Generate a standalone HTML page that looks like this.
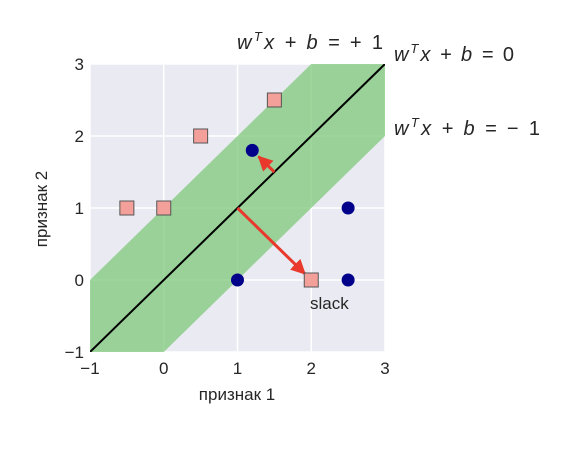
<!DOCTYPE html>
<html><head><meta charset="utf-8"><style>
body{margin:0;background:#fff;}
svg text{font-family:"Liberation Sans","DejaVu Sans",sans-serif;fill:#262626;}
</style></head><body>
<svg width="574" height="464">
<defs><clipPath id="clip"><rect x="90" y="64" width="295" height="288"/></clipPath>
<marker id="ah" viewBox="0 0 10 10" refX="9" refY="5" markerWidth="5" markerHeight="5" orient="auto"><path d="M0,0L10,5L0,10z" fill="#e8392c"/></marker></defs>
<rect x="90" y="64" width="295" height="288" fill="#eaeaf2"/>
<g id="grid"></g>
<g id="band" clip-path="url(#clip)"></g>
<g id="marks"></g>
<g id="ticks"></g>
<text x="237" y="400" font-size="17" text-anchor="middle">признак 1</text>
<text transform="translate(47,209) rotate(-90)" font-size="17" text-anchor="middle">признак 2</text>
<text x="237" y="49" font-size="20" font-style="italic" textLength="146" lengthAdjust="spacing">w<tspan dy="-8" font-size="13">T</tspan><tspan dy="8">x + b =  </tspan><tspan font-style="normal">+ 1</tspan></text>
<text x="394" y="61" font-size="20" font-style="italic" textLength="120" lengthAdjust="spacing">w<tspan dy="-8" font-size="13">T</tspan><tspan dy="8">x + b = </tspan><tspan font-style="normal">0</tspan></text>
<text x="394" y="135" font-size="20" font-style="italic" textLength="146" lengthAdjust="spacing">w<tspan dy="-8" font-size="13">T</tspan><tspan dy="8">x + b =  </tspan><tspan font-style="normal">− 1</tspan></text>
<text x="310" y="309" font-size="17">slack</text>
</svg>
<script>
const ticks=[-1,0,1,2,3];
const tickLabels=["−1","0","1","2","3"];
const squaresX=[-0.5,0,0.5,1.5,2];
const squaresY=[1,1,2,2.5,0];
const circlesX=[1,1.2,2.5,2.5];
const circlesY=[0,1.8,1,0];
const arrowsFrom=[[1,1],[1.5,1.5]];
const arrowsTo=[[2,0],[1.2,1.8]];
const X=v=>90+(v+1)*73.75, Y=v=>352-(v+1)*72;
const NS="http://www.w3.org/2000/svg";
function mk(t,a,p){const e=document.createElementNS(NS,t);for(const k in a)e.setAttribute(k,a[k]);document.getElementById(p).appendChild(e);return e;}
ticks.forEach((t,i)=>{
 let g=mk('line',{x1:X(t),x2:X(t),y1:64,y2:352,stroke:'#fff','stroke-width':1.5},'grid');
 
 
 g=mk('line',{x1:90,x2:385,y1:Y(t),y2:Y(t),stroke:'#fff','stroke-width':1.5},'grid');
 
 
 let e=mk('text',{x:X(t),y:374,'font-size':17,'text-anchor':'middle'},'ticks');e.textContent=tickLabels[i];
 
 
 e=mk('text',{x:84,y:Y(t)+6,'font-size':17,'text-anchor':'end'},'ticks');e.textContent=tickLabels[i];
 
 
});
const x0=-1,x1=3;
let b=mk('polygon',{points:`${X(x0)},${Y(x0+1)} ${X(x1)},${Y(x1+1)} ${X(x1)},${Y(x1-1)} ${X(x0)},${Y(x0-1)}`,fill:'#7ec87a','fill-opacity':0.75},'band');


b=mk('line',{x1:X(x0),y1:Y(x0),x2:X(x1),y2:Y(x1),stroke:'#000','stroke-width':2},'band');


arrowsFrom.forEach((f,i)=>{
 const t=arrowsTo[i];const dx=X(t[0])-X(f[0]),dy=Y(t[1])-Y(f[1]);const L=Math.hypot(dx,dy),s=(L-9)/L;
 const a=mk('line',{x1:X(f[0]),y1:Y(f[1]),x2:X(f[0])+dx*s,y2:Y(f[1])+dy*s,stroke:'#e8392c','stroke-width':3,'marker-end':'url(#ah)'},'marks');
 
 
});
squaresX.forEach((x,i)=>{
 const r=mk('rect',{x:X(x)-7,y:Y(squaresY[i])-7,width:14,height:14,fill:'#f4a09a',stroke:'#555','stroke-width':1},'marks');
 
 
});
circlesX.forEach((x,i)=>{
 const c=mk('circle',{cx:X(x),cy:Y(circlesY[i]),r:6.5,fill:'#00008b'},'marks');
 
 
});
</script>
</body></html>
